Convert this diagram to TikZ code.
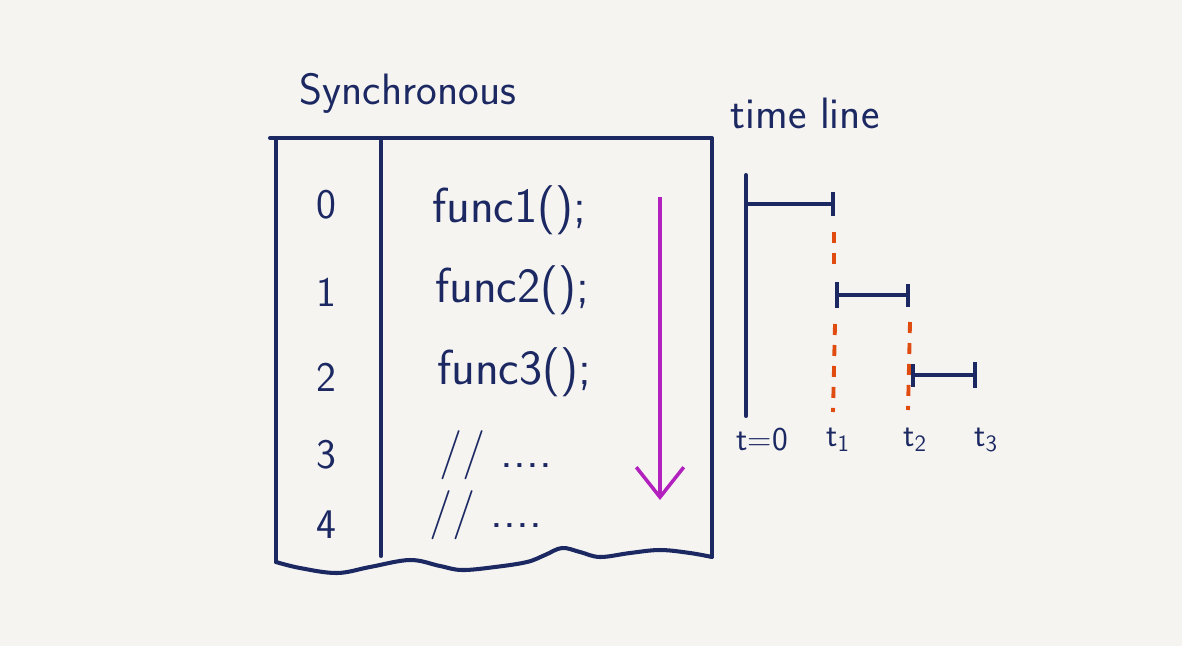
\documentclass[tikz,border=0pt]{standalone}
\usepackage{fontspec}
\usepackage{tikz}
\usetikzlibrary{arrows.meta,positioning,calc}

\definecolor{paper}{RGB}{245,244,241}
\definecolor{ink}{RGB}{27,40,98}
\definecolor{pen}{RGB}{178,32,190}
\definecolor{rust}{RGB}{224,76,16}

\begin{document}
\begin{tikzpicture}
[   x=0.02cm, y=-0.02cm,
    ink line/.style={draw=ink, line width=2.3pt, line cap=round, line join=round},
    gap line/.style={draw=rust, line width=2.2pt, dash pattern=on 0.22cm off 0.2cm},
    rownum/.style={text=ink, font=\sffamily\fontsize{24}{28}\selectfont},
    code/.style={text=ink, anchor=west, font=\sffamily\fontsize{28}{32}\selectfont},
    tlabel/.style={text=ink, font=\sffamily\fontsize{19}{22}\selectfont},
    title/.style={text=ink, font=\sffamily\fontsize{25}{29}\selectfont}, ]

    \fill[paper] (0,0) rectangle (1182,646);
    \useasboundingbox (0,0) rectangle (1182,646);

    % the call stack box
    \draw[ink line] (270,138) -- (712,138) -- (712,556);
    \draw[ink line] (276,138) -- (276,562);
    \draw[ink line] (381,141) -- (381,556);
    \draw[ink line] plot[smooth, tension=0.6] coordinates {(276,562) (300,568) (337,573) (370,567) (410,560) (440,566) (462,570) (495,567) (527,562) (545,555) (562,548) (580,552) (600,557) (630,553) (660,550) (690,553) (712,557)};

    \node[title] (sync) at (408,93) {Synchronous};

\foreach \n/\y in {0/205,1/292,2/377,3/455,4/525}
{
    \node[rownum] (row\n) at (326,\y) {\n};
}

    \node[code] (f1) at (426,210) {func1();};
    \node[code] (f2) at (429,290) {func2();};
    \node[code] (f3) at (431,372) {func3();};
    \node[code] (c1) at (433,455) {// ....};
    \node[code] (c2) at (423,515) {// ....};

    % direction of execution
    \coordinate (run0) at (660,197);
    \coordinate (run1) at (660,500);
    \draw[draw=pen, line width=2pt, -{Straight Barb[length=0.6cm,width=0.95cm,line width=2pt]}] (run0) -- (run1);

    % time line
    \node[title] (tline) at (805,113) {time line};

    \coordinate (t0top) at (746,175);
    \coordinate (t0bot) at (746,416);
    \coordinate (a0) at (746,204);
    \coordinate (a1) at (835,204);
    \coordinate (b0) at (835,295);
    \coordinate (b1) at (910,295);
    \coordinate (c0) at (911,375);
    \coordinate (c1) at (977,375);

    \draw[ink line] (t0top) -- (t0bot);
    \draw[ink line, -{Bar[width=0.48cm]}] (a0) -- (a1);
    \draw[ink line, {Bar[width=0.52cm]}-{Bar[width=0.46cm]}] (b0) -- (b1);
    \draw[ink line, {Bar[width=0.46cm]}-{Bar[width=0.52cm]}] (c0) -- (c1);

    \coordinate (d1) at (834,232);
    \coordinate (d2) at (834,268);
    \coordinate (d3) at (835,324);
    \coordinate (d4) at (833,412);
    \coordinate (d5) at (910,322);
    \coordinate (d6) at (908,410);
    \draw[gap line] (d1) -- (d2);
    \draw[gap line] (d3) -- (d4);
    \draw[gap line] (d5) -- (d6);

    \node[tlabel] (lt0) at (762,440) {t=0};
    \node[tlabel] (lt1) at (838,440) {t\textsubscript{1}};
    \node[tlabel] (lt2) at (915,440) {t\textsubscript{2}};
    \node[tlabel] (lt3) at (986,440) {t\textsubscript{3}};

\end{tikzpicture}
\end{document}
